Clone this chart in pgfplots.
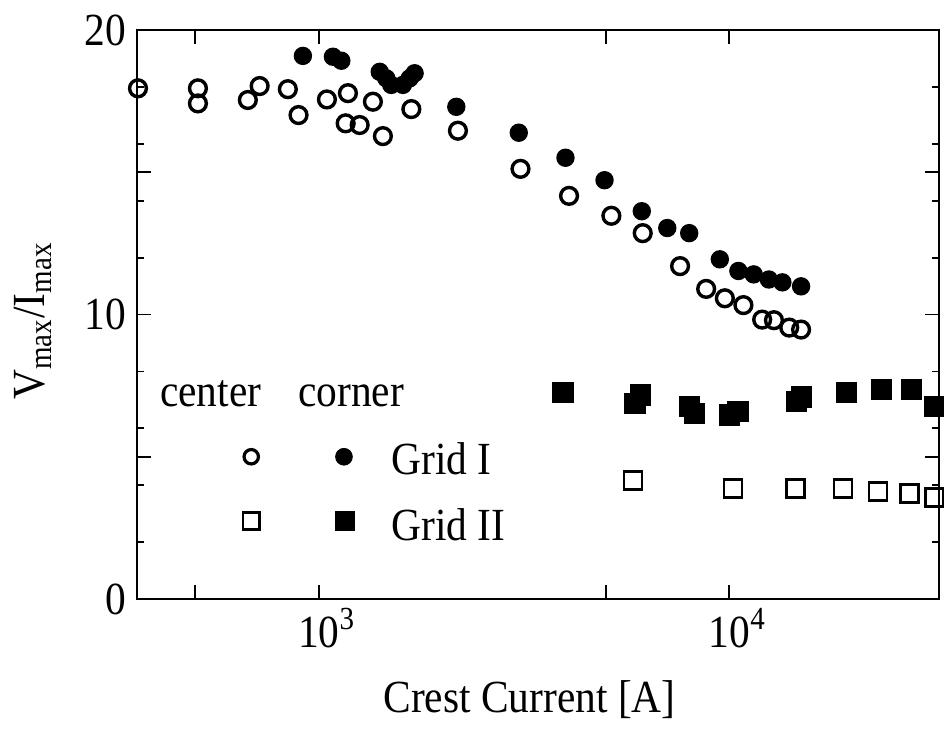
\documentclass[border=0pt]{standalone}
\usepackage{fontspec}
\setmainfont{Liberation Serif}[FakeStretch=0.9]
\usepackage{pgfplots}
\pgfplotsset{compat=1.18}
\begin{document}
\begin{tikzpicture}[font=\fontsize{23}{27}\selectfont]
\begin{axis}[
  at={(0,0)}, anchor=south west,
  scale only axis, width=401pt, height=284.5pt,
  xmode=log, log basis x=10,
  xmin=361, xmax=32400, ymin=0, ymax=20,
  xtick={1000,10000}, xticklabels={10\textsuperscript{3},10\textsuperscript{4}},
  extra x ticks={500,5000}, extra x tick labels={},
  ytick={0,10,20}, extra y ticks={5,15}, extra y tick labels={},
  minor y tick num=4,
  tick align=inside,
  major tick length=7pt, minor tick length=3.5pt,
  every tick/.style={black, line width=0.9pt},
  axis line style={line width=1.2pt},
  /pgf/number format/assume math mode=true,
  yticklabel style={xshift=-2pt},
  xticklabel style={xshift=4pt, yshift=-1pt},
  clip=false,
]
% center, Grid I (open circles)
\addplot[only marks, mark=o, mark size=4.2pt, mark options={line width=1.7pt, fill=white}] coordinates {
(363,17.95) (508,17.95) (508,17.42) (672,17.54) (718,18.03) (841,17.92) (893,17.01)
(1047,17.56) (1178,17.78) (1163,16.72) (1258,16.66) (1355,17.48) (1433,16.27) (1681,17.22)
(2183,16.46) (3100,15.12) (4070,14.17) (5160,13.47) (6152,12.86) (7586,11.70) (8780,10.90)
(9750,10.57) (10820,10.33) (12020,9.82) (12840,9.80) (13990,9.54) (14950,9.47)
};
% corner, Grid I (filled circles)
\addplot[only marks, mark=*, mark size=4.2pt, mark options={line width=0.8pt, fill=black}] coordinates {
(915,19.09) (1083,19.06) (1135,18.92) (1408,18.53) (1461,18.30) (1502,18.07) (1603,18.07)
(1665,18.30) (1712,18.48) (2163,17.30) (3070,16.39) (3990,15.51) (4966,14.72) (6120,13.63)
(7060,13.04) (7985,12.86) (9480,11.94) (10520,11.53) (11460,11.41) (12480,11.23)
(13460,11.13) (14950,10.99)
};
% corner, Grid II (filled squares)
\addplot[only marks, mark=square*, mark size=5pt, mark options={line width=0.6pt, fill=black}] coordinates {
(3934,7.25) (5890,6.88) (6070,7.17) (8006,6.76) (8233,6.53) (10020,6.47) (10490,6.58)
(14600,6.95) (15000,7.10) (19280,7.25) (23440,7.37) (27740,7.35) (31600,6.76)
};
% center, Grid II (open squares)
\addplot[only marks, mark=square, mark size=4.5pt, mark options={line width=1.3pt}] coordinates {
(5821,4.16) (10200,3.89) (14490,3.89) (18920,3.89) (23030,3.77) (27480,3.71) (31600,3.57)
};
% legend marks
\addplot[only marks, mark=o, mark size=3.6pt, mark options={line width=1.6pt}] coordinates {(685,5.0)};
\addplot[only marks, mark=*, mark size=4.2pt] coordinates {(1152,5.0)};
\addplot[only marks, mark=square, mark size=4.2pt, mark options={line width=1.3pt}] coordinates {(685,2.74)};
\addplot[only marks, mark=square*, mark size=4.8pt] coordinates {(1156,2.74)};
\node[anchor=base west, inner sep=0pt] at (axis cs:410,6.75) {center};
\node[anchor=base west, inner sep=0pt] at (axis cs:889,6.75) {corner};
\node[anchor=base west, inner sep=0pt] at (axis cs:1502,4.36) {Grid I};
\node[anchor=base west, inner sep=0pt] at (axis cs:1502,2.07) {Grid II};
\end{axis}
\node at (196.25pt,-50.5pt) {Crest Current [A]};
\node[rotate=90] at (-52pt,139pt) {V\textsubscript{max}/I\textsubscript{max}};
\pgfresetboundingbox
\path (-68.5pt,-65pt) rectangle (403.5pt,299.5pt);
\end{tikzpicture}
\end{document}
